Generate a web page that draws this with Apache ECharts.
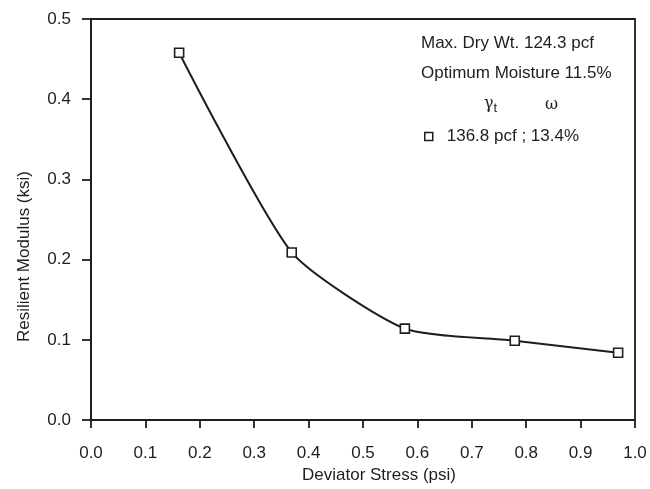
<!DOCTYPE html>
<html>
<head>
<meta charset="utf-8">
<script src="https://cdn.jsdelivr.net/npm/echarts@6/dist/echarts.min.js"></script>
<style>
  html, body { margin: 0; padding: 0; background: #fff; }
  #chart { width: 650px; height: 489px; }
</style>
</head>
<body>
<div id="chart"></div>
<script>
// data
var deviatorStress = [0.162, 0.369, 0.577, 0.779, 0.969];
var resilientModulus = [0.458, 0.209, 0.114, 0.099, 0.084];
var seriesName = '136.8 pcf ; 13.4%';
var notes = ['Max. Dry Wt. 124.3 pcf', 'Optimum Moisture 11.5%'];

var ink = '#1e1e1e';
var font = 'Liberation Sans, Arial, Helvetica, sans-serif';
var fs = 17;

var points = [];
for (var i = 0; i < deviatorStress.length; i++) {
    points.push([deviatorStress[i], resilientModulus[i]]);
}

var myChart = echarts.init(document.getElementById('chart'));

var option = {
    backgroundColor: '#fff',
    animation: false,
    textStyle: { fontFamily: font, color: ink },
    grid: {
        left: 91, right: 15, top: 19, bottom: 66,
        show: true, borderColor: ink, borderWidth: 1.8
    },
    xAxis: {
        type: 'value', min: 0, max: 1, interval: 0.1,
        name: 'Deviator Stress (psi)', nameLocation: 'middle', nameGap: 38,
        nameTextStyle: { fontSize: fs, color: ink, fontFamily: font, padding: [0, 0, 0, 32] },
        axisLine: { lineStyle: { color: ink, width: 1.8 } },
        axisTick: { show: true, length: 8, lineStyle: { color: ink, width: 1.8 } },
        axisLabel: {
            margin: 25, fontSize: fs, color: ink, fontFamily: font,
            formatter: function (v) { return v.toFixed(1); }
        },
        splitLine: { show: false }
    },
    yAxis: {
        type: 'value', min: 0, max: 0.5, interval: 0.1,
        name: 'Resilient Modulus (ksi)', nameLocation: 'middle', nameGap: 58,
        nameTextStyle: { fontSize: fs, color: ink, fontFamily: font, padding: [0, 74, 0, 0] },
        axisLine: { show: true, lineStyle: { color: ink, width: 1.8 } },
        axisTick: { show: true, length: 9, lineStyle: { color: ink, width: 1.8 } },
        axisLabel: {
            margin: 20, fontSize: fs, color: ink, fontFamily: font,
            formatter: function (v) { return v.toFixed(1); }
        },
        splitLine: { show: false }
    },
    legend: {
        data: [seriesName],
        left: 419, top: 123,
        icon: 'rect', itemWidth: 8, itemHeight: 8, itemGap: 4,
        itemStyle: { color: '#fff', borderColor: ink, borderWidth: 1.5 },
        textStyle: { fontSize: fs, color: ink, fontFamily: font, padding: [0, 0, 0, 9] }
    },
    graphic: [
        {
            type: 'text', left: 421, top: 35,
            style: { text: notes[0], font: fs + 'px ' + font, fill: ink }
        },
        {
            type: 'text', left: 421, top: 65,
            style: { text: notes[1], font: fs + 'px ' + font, fill: ink }
        },
        {
            type: 'text', left: 484, top: 96,
            style: {
                text: '{g|γ}{s|t}',
                rich: {
                    g: { fontSize: 16, fontFamily: 'DejaVu Serif, serif', fill: ink },
                    s: { fontSize: 13, fontFamily: font, fill: ink, padding: [9, 0, 0, 0] }
                }
            }
        },
        {
            type: 'text', left: 545, top: 97,
            style: { text: 'ω', font: '16px DejaVu Serif, serif', fill: ink }
        }
    ],
    series: [
        {
            name: seriesName,
            type: 'line',
            data: points,
            smooth: 0.2,
            symbol: 'rect',
            symbolSize: 9,
            itemStyle: { color: '#fff', borderColor: ink, borderWidth: 1.6 },
            lineStyle: { color: ink, width: 2 }
        }
    ]
};

myChart.setOption(option);
</script>
</body>
</html>
